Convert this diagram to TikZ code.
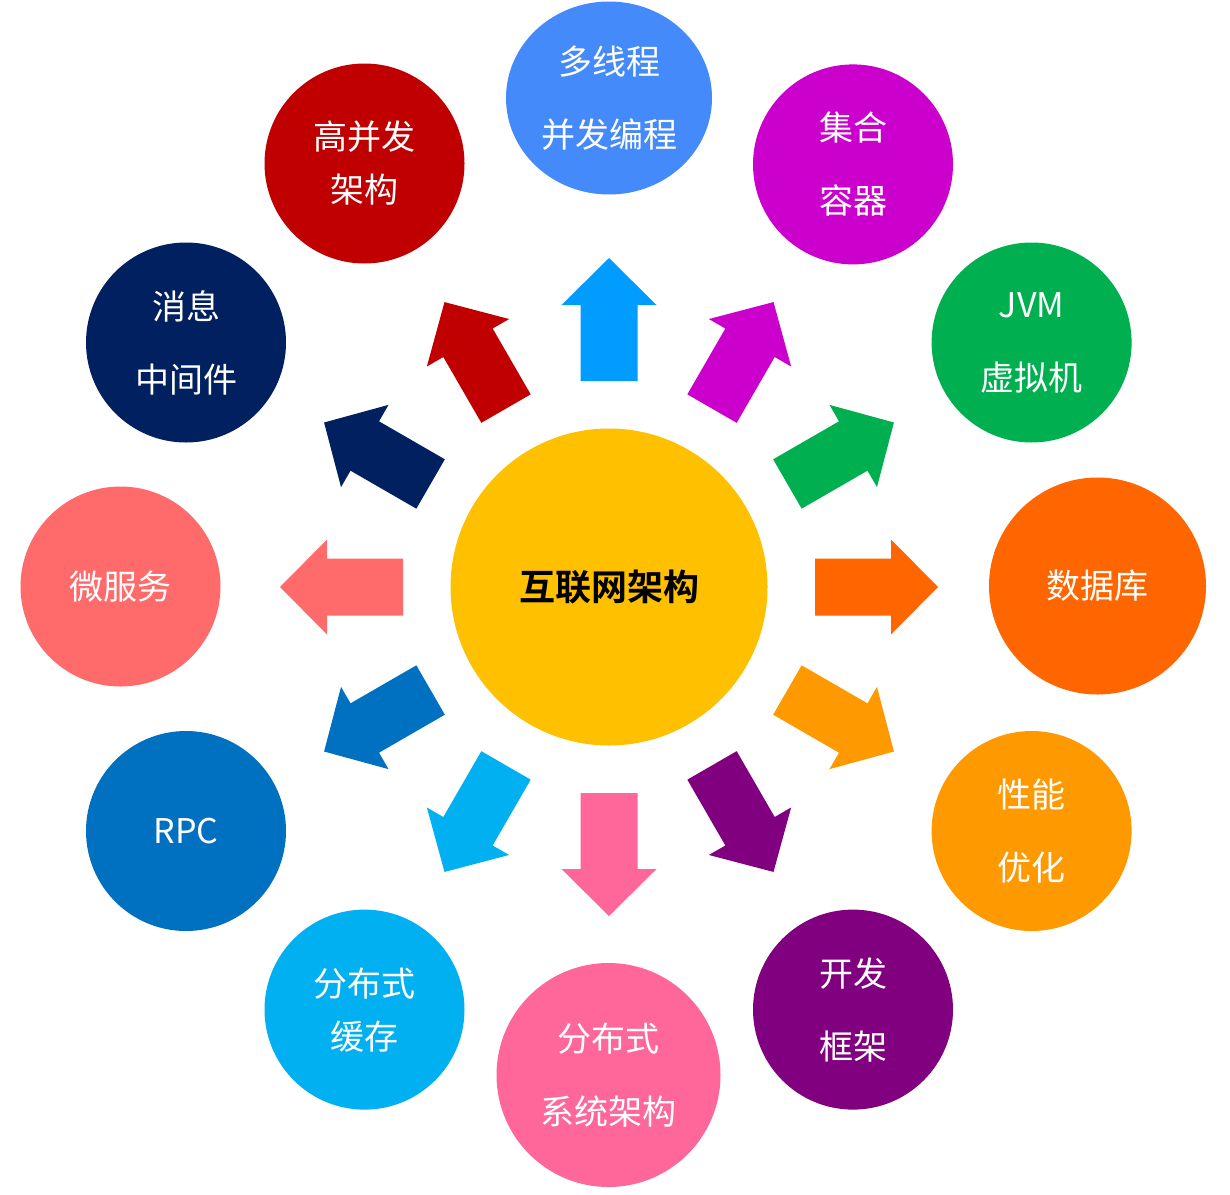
\documentclass[tikz,border=0pt]{standalone}
\usepackage{fontspec}
\newfontfamily\cjk{Noto Sans CJK SC}[BoldFont={Noto Sans CJK SC Bold}]
\usetikzlibrary{shapes.geometric}
\definecolor{cHub}{HTML}{FFC000}
\definecolor{cTop}{RGB}{68,138,250}
\definecolor{aTop}{HTML}{009CFF}
\definecolor{cMag}{HTML}{CC00CC}
\definecolor{cGreen}{HTML}{00B050}
\definecolor{cOrange}{HTML}{FF6600}
\definecolor{cAmber}{HTML}{FF9900}
\definecolor{cPurple}{HTML}{800080}
\definecolor{cPink}{HTML}{FF6699}
\definecolor{cSky}{HTML}{00B0F0}
\definecolor{cBlue}{HTML}{0070C0}
\definecolor{cSalmon}{HTML}{FF6B6B}
\definecolor{cNavy}{HTML}{002060}
\definecolor{cRed}{HTML}{C00000}
\begin{document}
\begin{tikzpicture}[x=1pt,y=-1pt,
  bubble/.style={circle, fill=#1, text=white, inner sep=0pt, minimum size=200pt,
    align=center, font={\cjk\fontsize{34}{73}\selectfont}},
  tight/.style={font={\cjk\fontsize{34}{53}\selectfont}}]
\fill[white] (0,0) rectangle (1230,1194);
\useasboundingbox (0,0) rectangle (1230,1194);
% hub
\node[circle, fill=cHub, inner sep=0pt, minimum size=317pt, text=black,
  font={\cjk\bfseries\fontsize{36}{44}\selectfont}] (hub) at (609,587) {互联网架构};
% block arrows
\foreach \ang/\col in {90/aTop,60/cMag,30/cGreen,0/cOrange,-30/cAmber,-60/cPurple,
  -90/cPink,-120/cSky,-150/cBlue,180/cSalmon,150/cNavy,120/cRed}{
  \begin{scope}[shift={(hub.center)}, rotate=\ang]
    \fill[\col] (206,-28.5) -- (282,-28.5) -- (282,-47.5) -- (329,0) -- (282,47.5)
      -- (282,28.5) -- (206,28.5) -- cycle;
  \end{scope}
}
% outer bubbles
\node[bubble=cTop, ellipse, minimum width=206pt, minimum height=193pt] (mt) at (609,98) {多线程\\并发编程};
\node[bubble=cMag] (jh) at (853,164.4) {集合\\容器};
\node[bubble=cGreen] (jvm) at (1031.6,342.5) {JVM\\虚拟机};
\node[bubble=cOrange, minimum size=217pt] (db) at (1097.5,586) {数据库};
\node[bubble=cAmber] (xn) at (1031.6,831) {性能\\优化};
\node[bubble=cPurple] (kf) at (853,1009.6) {开发\\框架};
\node[bubble=cPink, minimum size=224pt] (fbxt) at (608.5,1075) {分布式\\系统架构};
\node[bubble=cSky, tight] (fbhc) at (364.5,1009.6) {分布式\\缓存};
\node[bubble=cBlue] (rpc) at (186,831) {RPC};
\node[bubble=cSalmon] (wfw) at (120.5,586.5) {微服务};
\node[bubble=cNavy] (xx) at (186,342.5) {消息\\中间件};
\node[bubble=cRed, tight] (gbf) at (364.5,163.5) {高并发\\架构};
\end{tikzpicture}
\end{document}
